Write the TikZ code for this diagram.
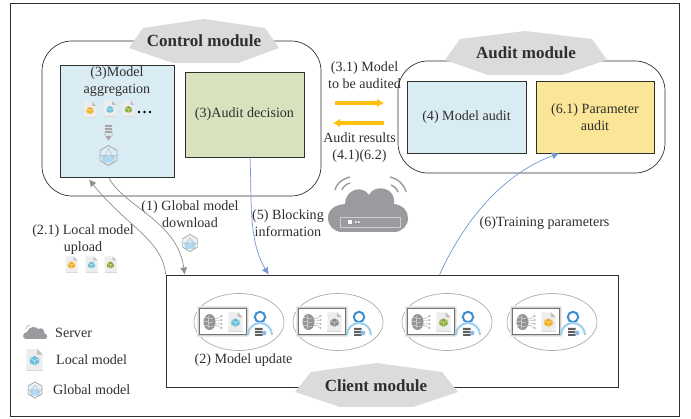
\documentclass[tikz,border=0pt]{standalone}
\usepackage{fontspec}
\setmainfont{Liberation Serif}
\usetikzlibrary{arrows.meta,calc}
\definecolor{ink}{HTML}{2F2F2F}
\definecolor{hexgray}{HTML}{DADBDD}
\definecolor{paleblue}{HTML}{DAECF3}
\definecolor{palegreen}{HTML}{D8E2BE}
\definecolor{paleyellow}{HTML}{FBE597}
\definecolor{amber}{HTML}{FFC010}
\definecolor{flowblue}{HTML}{7496D2}
\definecolor{flowgray}{HTML}{8E8E8E}
\definecolor{cloudgray}{HTML}{9A9B9F}
\definecolor{ringblue}{HTML}{3E8FD0}
\definecolor{archblue}{HTML}{9BCFEF}
\definecolor{cubeblue}{HTML}{6CC0DC}
\definecolor{cubeorange}{HTML}{F3AE24}
\definecolor{cubegreen}{HTML}{8DAE3C}
\tikzset{
 lbl/.style={font=\fontsize{14.1}{17}\selectfont,text=ink,align=center,inner sep=0pt},
 ttl/.style={font=\fontsize{17}{19}\selectfont\bfseries,text=ink,inner sep=0pt},
 modbox/.style={draw=ink,line width=.7pt,rounded corners=30pt,inner sep=0pt},
 sqbox/.style={draw=ink,line width=.8pt,align=center,inner sep=0pt,font=\fontsize{14.1}{17}\selectfont,text=ink},
 bluearrow/.style={draw=flowblue,line width=.7pt,-{Latex[length=7pt,width=7pt]}},
 grayarrow/.style={draw=flowgray,line width=.7pt,-{Latex[length=7pt,width=7pt]}},
 ambarrow/.style={draw=amber,line width=3.8pt,-{Latex[length=7pt,width=9pt]}},
}
\newcommand{\plate}[4][1]{% centre x, y, colour of the cube: a small document
 \begin{scope}[shift={(#2,#3)},scale=#1]
  \fill[black!7] (-6,-8) -- (2,-8) -- (6,-4) -- (6,8) -- (-6,8) -- cycle;
  \fill[black!25] (2,-8) -- (6,-4) -- (2,-4) -- cycle;
  \fill[black!15] (-6,7.2) rectangle (6,8);
  \fill[#4] (0,-3) -- (3.4,-1.2) -- (3.4,2.2) -- (0,4) -- (-3.4,2.2) -- (-3.4,-1.2) -- cycle;
  \draw[white,line width=.3pt] (-3.4,-1.2) -- (0,.6) -- (3.4,-1.2) (0,.6) -- (0,4);
 \end{scope}}
\newcommand{\globe}[3][1]{%
 \begin{scope}[shift={(#2,#3)},scale=#1]
  \fill[archblue!35] (-7.5,0) -- (7.5,0) -- (5,-6) -- (-5,-6) -- cycle;
  \fill[archblue!80] (-7.5,0) -- (7.5,0) -- (5,7) -- (-5,7) -- cycle;
  \draw[gray!65,line width=.9pt] (0,-10) -- (8.5,-5) -- (8.5,5) -- (0,10) -- (-8.5,5) -- (-8.5,-5) -- cycle;
  \draw[gray!50,line width=.5pt] (-10,0) -- (10,0) (-5,3) -- (0,-7) -- (5,3);
 \end{scope}}
\newcommand{\brain}[2]{%
 \begin{scope}[shift={(#1,#2)}]
  \fill[gray!85] (-3.5,0) ellipse (6 and 8);
  \foreach \dy in {-4,0,4}{\draw[white,line width=.35pt] (-9,\dy) .. controls (-6,\dy-2) and (-3,\dy+2) .. (0,\dy);}
  \draw[white,line width=.35pt] (-4,-7) -- (-5,7);
  \foreach \dy in {-6,-2,2,6}{\draw[gray!65,line width=.4pt] (1,\dy*.6) -- (5,\dy*.6) -- (8,\dy); \draw[gray!65,line width=.4pt,fill=white] (8.5,\dy) circle (.9);}
 \end{scope}}
\newcommand{\usr}[2]{%
 \begin{scope}[shift={(#1,#2)}]
  \draw[ringblue,line width=2pt] (0,-5) circle (5.2);
  \draw[archblue,line width=2pt] (-12,13) arc[start angle=180,end angle=360,radius=12];
  \fill[gray!75!black] (-5,6) rectangle (2.5,8) (-5,9) rectangle (2.5,11) (-5,12) rectangle (2.5,14);
  \fill[ringblue!60] (4,11) circle (2.4);
 \end{scope}}
\newcommand{\client}[3]{% ellipse centre x,y, cube colour
 \begin{scope}[shift={(#1,#2)}]
  \draw[gray!65,line width=.7pt] (0,0) ellipse (45 and 28.5);
  \foreach \o/\c in {2.6/8,1.9/18,1.2/34,.6/55}{\fill[black!\c] (-39-\o,-13-\o) rectangle (7+\o,12+\o);}
  \fill[white] (-39,-13) rectangle (7,12);
  \brain{-26}{0}
  \plate[1.2]{-3.5}{0}{#3}
  \usr{21}{0}
 \end{scope}}
\begin{document}
\begin{tikzpicture}[x=1pt,y=-1pt]
\useasboundingbox (0,0) rectangle (691,419);
\fill[white] (0,0) rectangle (691,419);
\draw[ink,line width=1pt] (10,4) rectangle (679,417);
% Control module
\node[modbox,minimum width=279pt,minimum height=155pt] (control) at (181.5,118.5) {};
\fill[hexgray] (129,48) -- (143,28) -- (204,19) -- (265,28) -- (279,48) -- (238,63) -- (173,63) -- cycle;
\node[ttl] (controlt) at (204,41) {Control module};
\node[sqbox,fill=paleblue,minimum width=114pt,minimum height=112pt] (agg) at (117.5,121) {};
\node[lbl] (aggt) at (117,82) {(3)Model\\aggregation};
\plate{90}{110}{cubeorange}
\plate{110}{109}{cubeblue}
\plate{128.5}{109}{cubegreen}
\fill[black] (139,112) circle (1.4) (144.5,112) circle (1.4) (150,112) circle (1.4);
\fill[gray!70] (105,125) rectangle (112,127) (105,128) rectangle (112,130) (105,131) rectangle (112,133);
\fill[gray!70] (105,134) rectangle (112,136) (104,134) -- (113,134) -- (108.5,140.5) -- cycle;
\globe{108.5}{155.5}
\node[sqbox,fill=palegreen,minimum width=119pt,minimum height=85pt] (decision) at (244.5,114.5) {(3)Audit decision};
% Audit module
\node[modbox,minimum width=267pt,minimum height=112pt] (audit) at (531.5,117) {};
\fill[hexgray] (445,60) -- (460,39) -- (525,31) -- (592,39) -- (607,60) -- (562,75) -- (488,75) -- cycle;
\node[ttl] (auditt) at (526,52.5) {Audit module};
\node[sqbox,fill=paleblue,minimum width=119pt,minimum height=72pt] (maudit) at (466.5,117) {(4) Model audit};
\node[sqbox,fill=paleyellow,minimum width=118pt,minimum height=72pt] (paudit) at (595,117) {(6.1) Parameter\\audit};
% Client module
\node[draw=ink,line width=.8pt,minimum width=452pt,minimum height=112pt,inner sep=0pt] (clientbox) at (392,331) {};
\client{239}{322}{cubeblue}
\client{338}{322}{gray!90}
\client{447}{322}{cubegreen}
\client{552}{322}{cubeorange}
\fill[hexgray] (295,392) -- (311,372) -- (377,363) -- (442,372) -- (458,392) -- (413,407) -- (340,407) -- cycle;
\node[ttl] (clientt) at (376,385.5) {Client module};
\node[lbl] (update) at (243.5,360) {(2) Model update};
% Labels
\node[lbl] (l31) at (364.5,75) {(3.1) Model\\to be audited};
\coordinate (a1) at (335,103);
\coordinate (a2) at (384,103);
\draw[ambarrow] (a1) -- (a2);
\coordinate (b1) at (384,123);
\coordinate (b2) at (333,123);
\draw[ambarrow] (b1) -- (b2);
\node[lbl] (l41) at (359.5,147.5) {Audit results\\(4.1)(6.2)};
\node[lbl] (l1) at (190,214.5) {(1) Global model\\download};
\node[lbl] (l21) at (83,240) {(2.1) Local model\\upload};
\node[lbl] (l5) at (288,223.5) {(5) Blocking\\information};
\node[lbl] (l6) at (544.5,223) {(6)Training parameters};
\globe[.85]{190}{243}
\plate{71.5}{264.5}{cubeorange}
\plate{91.5}{264.5}{cubeblue}
\plate{110.5}{264.5}{cubegreen}
% Connectors
\draw[grayarrow] (clientbox.north west) .. controls (163,240) and (125,225) .. ($(agg.south west)+(29,2)$);
\draw[grayarrow] ($(agg.south west)+(49,1)$) .. controls (125,207) and (178,222) .. ($(clientbox.north west)+(19,0)$);
\draw[bluearrow] ($(decision.south)+(5.5,0)$) .. controls (252,200) and (248,240) .. ($(clientbox.north west)+(103,0)$);
\draw[bluearrow] ($(clientbox.north west)+(274,0)$) .. controls (462,225) and (500,175) .. ($(paudit.south)+(-36,0)$);
% Cloud
\fill[cloudgray] (342,232) .. controls (334,232) and (328,226) .. (328,218)
 .. controls (328,210) and (334,205) .. (345,204)
 .. controls (345,190) and (362,184) .. (369,195)
 .. controls (374,184) and (396,186) .. (394,204)
 .. controls (403,205) and (408,211) .. (408,218)
 .. controls (408,226) and (402,232) .. (394,232) -- cycle;
\draw[black!20,line width=.7pt] (340,217) rectangle (400,227);
\fill[white] (348,220) rectangle (352,224);
\fill[white] (355,221.5) rectangle (356.5,222.8) (358,221.5) rectangle (359.5,222.8);
\draw[cloudgray,line width=1.4pt] (335,190) .. controls (336,184) and (342,179) .. (350,177);
\draw[cloudgray,line width=1.4pt] (342,190) .. controls (343,187) and (346,184) .. (350,183);
\draw[cloudgray,line width=1.4pt] (390,177) .. controls (398,179) and (404,184) .. (406,192);
\draw[cloudgray,line width=1.4pt] (391,185) .. controls (394,186) and (397,189) .. (398,192);
% Legend
\fill[cloudgray] (26,339) .. controls (22,339) and (22,333) .. (27,332) .. controls (29,326) and (36,326) .. (38,329) .. controls (42,327) and (45,330) .. (44,333) .. controls (48,334) and (48,339) .. (45,339) -- cycle;
\draw[cloudgray,line width=.5pt] (26,329) .. controls (26,327) and (28,325) .. (30,325);
\node[lbl,anchor=west] (ls) at (55,333) {Server};
\plate[1.35]{34.5}{360}{cubeblue}
\node[lbl,anchor=west] (ll) at (56,359.5) {Local model};
\globe[.8]{35}{390}
\node[lbl,anchor=west] (lg) at (53,389.5) {Global model};
\end{tikzpicture}
\end{document}
